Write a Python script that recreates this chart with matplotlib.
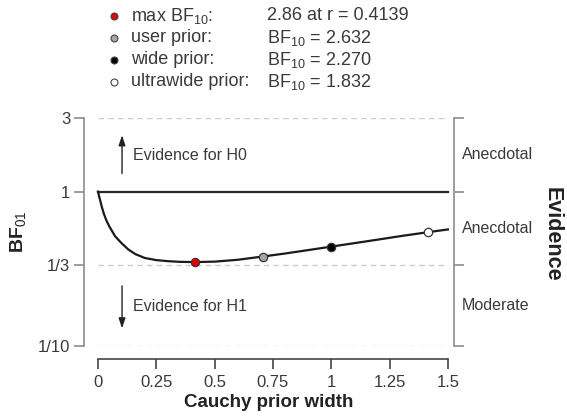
import matplotlib
matplotlib.use("Agg")
import numpy as np
import matplotlib.pyplot as plt

plt.rcParams['font.family'] = ['Liberation Sans', 'DejaVu Sans']
plt.rcParams['mathtext.fontset'] = 'custom'
plt.rcParams['mathtext.rm'] = 'Liberation Sans'
plt.rcParams['mathtext.it'] = 'Liberation Sans'
plt.rcParams['mathtext.bf'] = 'Liberation Sans:bold'

# robustness curve: BF01 as a function of the Cauchy prior width
prior_width = [0.0, 0.005, 0.01, 0.016, 0.025, 0.037, 0.05, 0.073, 0.1, 0.13, 0.16, 0.2,
               0.25, 0.3, 0.35, 0.4139, 0.5, 0.6, 0.707, 0.8, 0.9, 1.0, 1.1, 1.2, 1.3,
               1.414, 1.5]
bf01 = [1.000, 0.930, 0.870, 0.800, 0.720, 0.645, 0.590, 0.515, 0.465, 0.422, 0.394, 0.372,
        0.360, 0.3545, 0.351, 0.3497, 0.352, 0.362, 0.380, 0.397, 0.418, 0.4405, 0.464,
        0.489, 0.516, 0.546, 0.569]

# highlighted priors (BF10 values)
max_r = 0.4139
max_bf10 = 2.86
prior_names = ['user prior:', 'wide prior:', 'ultrawide prior:']
prior_r = [0.707, 1.0, 1.414]
prior_bf10 = [2.632, 2.270, 1.832]
prior_face = ['#a6a6a6', 'black', 'white']

y_ticks = [0.1, 1/3, 1, 3]
y_ticklabels = ['1/10', '1/3', '1', '3']
x_ticks = [0, 0.25, 0.5, 0.75, 1, 1.25, 1.5]
x_ticklabels = ['0', '0.25', '0.5', '0.75', '1', '1.25', '1.5']
evidence_labels = ['Anecdotal', 'Anecdotal', 'Moderate']

W, H = 567, 419
fig = plt.figure(figsize=(W / 100, H / 100), dpi=100)
ax = fig.add_axes([84 / W, 1 - 346 / H, (454 - 84) / W, (346 - 118) / H])
ax.set_yscale('log')
ax.set_xlim(-0.06, 1.526)
ax.set_ylim(0.1, 3)

txt = '#3a3a3a'
grey = '#8c8c8c'

# reference lines
for yv in [3, 1/3, 0.1]:
    ax.plot([0, 1.5], [yv, yv], color='#cccccc', lw=1, ls=(0, (4, 3)), zorder=1)
ax.plot([0, 1.5], [1, 1], color='#2a2a2a', lw=1.6, zorder=2)

ax.plot(prior_width, bf01, color='#1a1a1a', lw=1.6, zorder=3)
ax.plot(max_r, 1 / max_bf10, 'o', ms=6, mfc='#e00000', mec='#333333', mew=0.8, zorder=4)
for r, b, fc in zip(prior_r, prior_bf10, prior_face):
    ax.plot(r, 1 / b, 'o', ms=6, mfc=fc, mec='#333333', mew=0.9, zorder=4)

# axes in R style
ax.spines['top'].set_visible(False)
ax.spines['left'].set_bounds(0.1, 3)
ax.spines['right'].set_bounds(0.1, 3)
ax.spines['left'].set_color(grey)
ax.spines['right'].set_color(grey)
ax.spines['bottom'].set_position(('outward', 9))
ax.spines['bottom'].set_bounds(0, 1.5)
ax.spines['bottom'].set_color('#444444')
for s in ['left', 'right', 'bottom']:
    ax.spines[s].set_linewidth(1.2)

ax.set_yticks(y_ticks)
ax.set_yticklabels(y_ticklabels)
ax.yaxis.set_minor_locator(matplotlib.ticker.NullLocator())
ax.tick_params(axis='y', which='major', left=True, right=True, labelleft=True, labelright=False,
               length=7, width=1.2, color=grey, labelcolor=txt, labelsize=12, pad=3)
ax.set_xticks(x_ticks)
ax.set_xticklabels(x_ticklabels)
ax.tick_params(axis='x', length=7, width=1.2, color='#444444', labelcolor=txt, labelsize=12, pad=5)

ax.set_xlabel('Cauchy prior width', fontsize=13.5, fontweight='bold', color='#222222', labelpad=3)
ax.set_ylabel(r'$\mathbf{BF}_{01}$', fontsize=14, color='#222222', labelpad=7)

# evidence categories on the right side
edges = [3, 1, 1/3, 0.1]
for lab, hi, lo in zip(evidence_labels, edges[:-1], edges[1:]):
    ax.text(1.022, np.sqrt(hi * lo), lab, transform=ax.get_yaxis_transform(),
            fontsize=11.5, color=txt, va='center', ha='left')
fig.text(552 / W, 1 - 234 / H, 'Evidence', rotation=-90, fontsize=15.5, fontweight='bold',
         color='#222222', ha='center', va='center')

# direction arrows
arrow = dict(arrowstyle='-|>,head_length=0.3,head_width=0.1', color='#222222', lw=1.0,
             mutation_scale=20, shrinkA=0, shrinkB=0)
ax.annotate('', xy=(0.103, 2.32), xytext=(0.103, 1.31), arrowprops=arrow)
ax.text(0.15, 1.72, 'Evidence for H0', fontsize=11.5, color=txt, va='center')
ax.annotate('', xy=(0.103, 0.130), xytext=(0.103, 0.245), arrowprops=arrow)
ax.text(0.15, 0.181, 'Evidence for H1', fontsize=11.5, color=txt, va='center')

# legend block above the plot
leg = fig.add_axes([0, 0, 1, 1])
leg.set_xlim(0, W)
leg.set_ylim(H, 0)
leg.axis('off')
leg.patch.set_alpha(0)
rows_y = [16, 38, 60, 82]
labels = [r'max BF$_{10}$:'] + prior_names
values = ['%.2f at r = %.4f' % (max_bf10, max_r)] + [r'BF$_{10}$ = %.3f' % b for b in prior_bf10]
faces = ['#e00000'] + prior_face
for yv, lab, val, fc in zip(rows_y, labels, values, faces):
    leg.plot(114, yv, 'o', ms=5, mfc=fc, mec='#444444', mew=0.8)
    leg.text(131, yv, lab, fontsize=13, color=txt, va='center', ha='left')
    leg.text(267, yv, val, fontsize=13, color=txt, va='center', ha='left')

fig.savefig('out.png', dpi=100)
